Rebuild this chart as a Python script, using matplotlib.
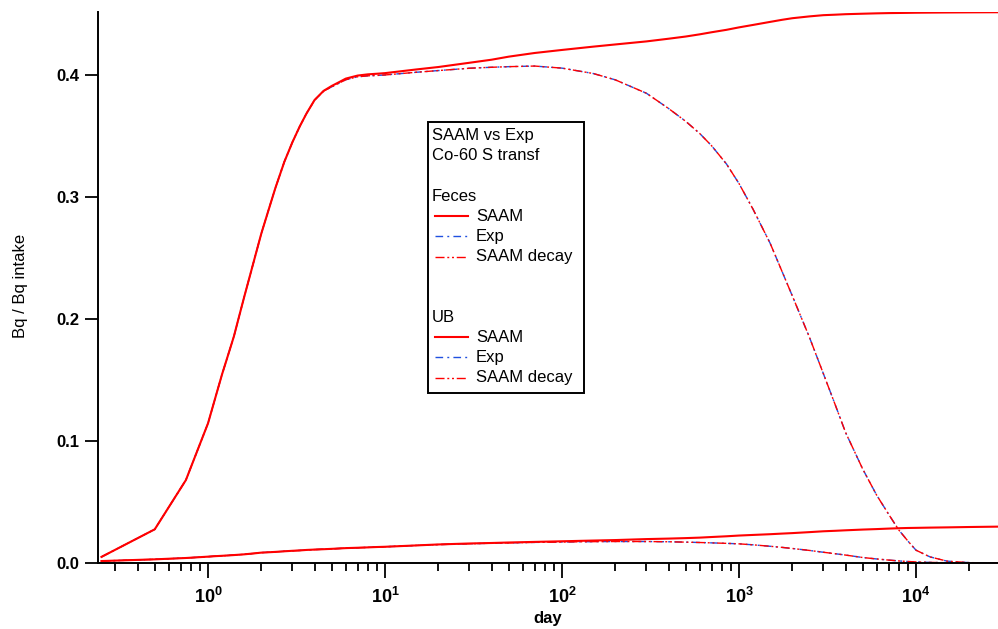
import numpy as np
import matplotlib
matplotlib.use("Agg")
import matplotlib.pyplot as plt
from matplotlib.ticker import LogLocator, FuncFormatter, NullFormatter

plt.rcParams['font.family'] = ['Liberation Sans', 'DejaVu Sans']
plt.rcParams['mathtext.fontset'] = 'custom'
plt.rcParams['mathtext.rm'] = 'Liberation Sans:bold'
plt.rcParams['mathtext.bf'] = 'Liberation Sans:bold'
plt.rcParams['lines.scale_dashes'] = False

# days since intake
days = [0.25, 0.5, 0.75, 1, 1.1, 1.2, 1.3, 1.4, 1.5, 1.6, 1.8, 2, 2.2, 2.4, 2.7,
        3, 3.3, 3.6, 4, 4.5, 5, 5.5, 6, 7, 8, 9, 10, 15, 20, 30, 40, 50, 70,
        100, 150, 200, 300, 400, 500, 600, 700, 850, 1000, 1200, 1500, 1750,
        2000, 2500, 3000, 3500,
        4000, 5000, 6000, 7000, 8000, 9000, 10000, 12000, 15000, 20000, 29000]

# Feces, Bq / Bq intake
feces_saam = [0.005, 0.0276, 0.068, 0.1145,
              0.1355, 0.1546, 0.1707, 0.1857, 0.2024, 0.2179, 0.2454,
              0.270, 0.2895, 0.3072, 0.3289,
              0.345, 0.3579, 0.3684, 0.3795, 0.387, 0.391, 0.3941,
              0.397, 0.3995, 0.4005, 0.401,
              0.4015, 0.4045, 0.4065, 0.410, 0.4125, 0.415, 0.418,
              0.4205, 0.4232, 0.425, 0.4275, 0.4297, 0.4315, 0.4333, 0.435,
              0.437, 0.439, 0.441, 0.4435, 0.4452,
              0.4465, 0.448, 0.449, 0.4494,
              0.4498, 0.4502, 0.4505, 0.4507, 0.4508, 0.4509,
              0.451, 0.4511, 0.4512, 0.4513, 0.4514]
feces_decay = [0.005, 0.0276, 0.068, 0.1145,
               0.1355, 0.1546, 0.1707, 0.1857, 0.2024, 0.2179, 0.2454,
               0.270, 0.2895, 0.3072, 0.3289,
               0.345, 0.3579, 0.3684, 0.3794, 0.3868, 0.3903, 0.3933,
               0.3961, 0.3985, 0.3993, 0.3996,
               0.4000, 0.4022, 0.4036, 0.4055, 0.4063, 0.4068, 0.4073,
               0.4056, 0.4012, 0.396, 0.385, 0.3725, 0.362, 0.352, 0.342,
               0.327, 0.311, 0.290, 0.262, 0.239,
               0.219, 0.185, 0.155, 0.1295,
               0.107, 0.077, 0.0555, 0.040, 0.027, 0.018,
               0.0105, 0.005, 0.0015, 0.0003, 0.0]
feces_exp = list(feces_decay)

# urinary bladder (UB)
ub_saam = [0.0016, 0.003, 0.0041, 0.0052,
           0.0056, 0.0059, 0.0062, 0.0065, 0.0068, 0.0071, 0.0078,
           0.0085, 0.0088, 0.0091, 0.0096,
           0.0100, 0.0103, 0.0107, 0.0110, 0.0113, 0.0116, 0.0119,
           0.0122, 0.0125, 0.0128, 0.0131,
           0.0133, 0.0144, 0.0152, 0.0160, 0.0164, 0.0168, 0.0173,
           0.0178, 0.0184, 0.0188, 0.0196, 0.0200, 0.0204, 0.0208, 0.0213,
           0.0219, 0.0225, 0.0230, 0.0236, 0.0241,
           0.0245, 0.0253, 0.0260, 0.0264,
           0.0268, 0.0274, 0.0278, 0.0282, 0.0285, 0.0287,
           0.0288, 0.0290, 0.0292, 0.0295, 0.0298]
ub_decay = [0.0016, 0.003, 0.0041, 0.0052,
            0.0056, 0.0059, 0.0062, 0.0065, 0.0068, 0.0071, 0.0078,
            0.0085, 0.0088, 0.0091, 0.0096,
            0.0100, 0.0103, 0.0107, 0.0110, 0.0113, 0.0116, 0.0119,
            0.0122, 0.0125, 0.0128, 0.0131,
            0.0133, 0.0144, 0.0151, 0.0158, 0.0162, 0.0165, 0.0169,
            0.0172, 0.0175, 0.0176, 0.0176, 0.0174, 0.0171, 0.0168, 0.0165,
            0.0161, 0.0157, 0.0149, 0.0137, 0.0128,
            0.0119, 0.0103, 0.0088, 0.0076,
            0.0065, 0.0045, 0.0033, 0.0024, 0.0017, 0.0012,
            0.0009, 0.0005, 0.0002, 0.0001, 0.0]
ub_exp = list(ub_decay)

yticks = [0.0, 0.1, 0.2, 0.3, 0.4]

RED = '#ff0000'
BLUE = '#2050e0'
saam_style = dict(color=RED, lw=1.5, linestyle='-')
exp_style = dict(color=BLUE, lw=1.0, dashes=[5.5, 3, 1.4, 3])
decay_style = dict(color=RED, lw=1.0, dashes=[6.5, 2, 1.4, 2, 1.4, 2])

fig = plt.figure(figsize=(9.98, 6.29), dpi=100)
ax = fig.add_axes([98 / 998, 1 - 563 / 629, 900 / 998, 551 / 629])

for exp_v, dec_v, saam_v in [(feces_exp, feces_decay, feces_saam), (ub_exp, ub_decay, ub_saam)]:
    ax.plot(days, exp_v, **exp_style)
    ax.plot(days, dec_v, **decay_style)
    ax.plot(days, saam_v, **saam_style)

ax.set_xscale('log')
ax.set_xlim(0.239, 29060)
ax.set_ylim(0, 0.4516)

for s in ['top', 'right']:
    ax.spines[s].set_visible(False)
for s in ['left', 'bottom']:
    ax.spines[s].set_linewidth(1.4)

ax.xaxis.set_major_locator(LogLocator(base=10, numticks=20))
ax.xaxis.set_minor_locator(LogLocator(base=10, subs=np.arange(2, 10), numticks=20))
ax.xaxis.set_major_formatter(FuncFormatter(lambda v, p: r'$\mathbf{10^{%d}}$' % round(np.log10(v))))
ax.xaxis.set_minor_formatter(NullFormatter())
ax.set_yticks(yticks)
ax.set_yticklabels(['%.1f' % v for v in yticks], fontweight='bold')

ax.tick_params(axis='x', which='major', direction='out', length=11, width=1.3,
               labelsize=13, pad=6)
ax.tick_params(axis='x', which='minor', direction='out', length=6, width=1.3)
ax.tick_params(axis='y', which='major', direction='out', length=9.5, width=1.3,
               labelsize=12, pad=4)

ax.set_xlabel('day', fontsize=12, fontweight='bold')
ax.xaxis.set_label_coords(0.5, -0.087)
ax.set_ylabel('Bq / Bq intake', fontsize=12)
ax.yaxis.set_label_coords(-0.078, 0.503)


# legend box, drawn in figure pixel coordinates
def fx(px):
    return px / 998


def fy(py):
    return 1 - py / 629


fig.patches.append(plt.Rectangle((fx(428), fy(393)), fx(584) - fx(428), fy(122) - fy(393),
                                 transform=fig.transFigure, fill=False, lw=1.4,
                                 edgecolor='black', zorder=5))
row0, step = 135.7, 20.15
rows = [
    (0, 'SAAM vs Exp', None),
    (1, 'Co-60 S transf', None),
    (3, 'Feces', None),
    (4, 'SAAM', saam_style),
    (5, 'Exp', exp_style),
    (6, 'SAAM decay', decay_style),
    (9, 'UB', None),
    (10, 'SAAM', saam_style),
    (11, 'Exp', exp_style),
    (12, 'SAAM decay', decay_style),
]
for k, label, style in rows:
    y = fy(row0 + step * k)
    if style is None:
        fig.text(fx(432), y, label, fontsize=12, va='center', ha='left')
    else:
        fig.add_artist(plt.Line2D([fx(435), fx(468)], [y, y], transform=fig.transFigure, **style))
        fig.text(fx(476), y, label, fontsize=12, va='center', ha='left')

fig.savefig('out.png', dpi=100)
